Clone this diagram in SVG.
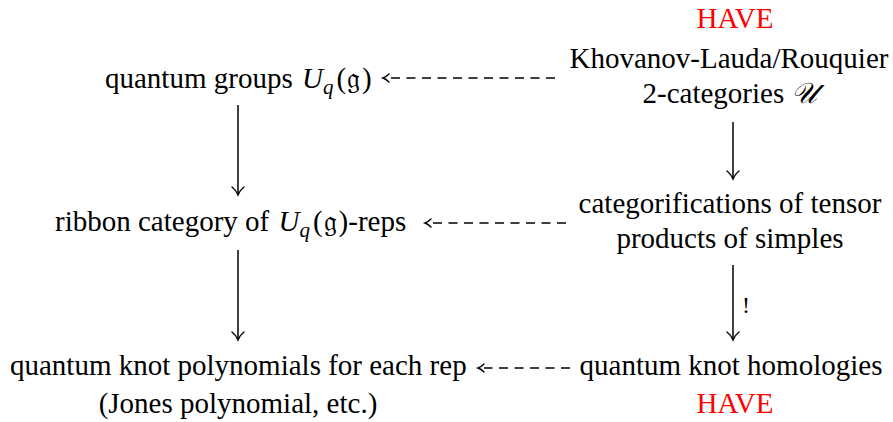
<svg xmlns="http://www.w3.org/2000/svg" width="893" height="422" viewBox="0 0 893 422">
<style>
text{font-family:"Liberation Serif","Times New Roman",serif;font-size:29px;fill:#000}
.red{fill:#ff0000}
.m{font-style:italic}
.sub{font-size:21px;font-style:italic}
.ln{stroke:#000;stroke-width:1.5;fill:none}
.dash{stroke:#000;stroke-width:1.4;fill:none;stroke-dasharray:9,6.5}
.head{stroke:#000;stroke-width:1.4;fill:none;stroke-linecap:round}
</style>
<rect width="893" height="422" fill="#fff"/>
<g id="n-qg"><text x="105" y="88">quantum groups <tspan class="m" dx="2">U</tspan><tspan class="sub" dy="6">q</tspan><tspan dy="-6" dx="3">(</tspan><tspan dx="1">𝔤</tspan><tspan dx="2">)</tspan></text></g>
<g id="n-kl"><text class="red" x="735" y="28" text-anchor="middle">HAVE</text><text x="729" y="68" text-anchor="middle">Khovanov-Lauda/Rouquier</text><text x="730" y="103" text-anchor="middle">2-categories <tspan class="m">𝒰</tspan></text></g>
<g id="n-rib"><text x="55" y="231">ribbon category of <tspan class="m" dx="2">U</tspan><tspan class="sub" dy="6">q</tspan><tspan dy="-6" dx="3">(</tspan><tspan dx="1">𝔤</tspan><tspan dx="2">)-reps</tspan></text></g>
<g id="n-cat"><text x="730" y="213" text-anchor="middle">categorifications of tensor</text><text x="730" y="248" text-anchor="middle">products of simples</text></g>
<g id="n-qkp"><text x="10" y="375">quantum knot polynomials for each rep</text><text x="238" y="413" text-anchor="middle">(Jones polynomial, etc.)</text></g>
<g id="n-qkh"><text x="731" y="375" text-anchor="middle">quantum knot homologies</text><text class="red" x="735" y="413" text-anchor="middle">HAVE</text></g>
<g id="connectors">
<path class="ln" d="M238 105V194"/><path class="head" d="M232 187Q236 190 238 195Q240 190 244 187"/>
<path class="ln" d="M238 250V339"/><path class="head" d="M232 332Q236 335 238 340Q240 335 244 332"/>
<path class="ln" d="M733 122V178"/><path class="head" d="M727 171Q731 174 733 179Q735 174 739 171"/>
<path class="ln" d="M733 265V339"/><path class="head" d="M727 332Q731 335 733 340Q735 335 739 332"/>
<text x="742" y="313" style="font-size:24px">!</text>
<path class="dash" d="M555 78H388"/><path class="head" d="M389 74Q386 77 383 78Q386 79 389 82"/>
<path class="dash" d="M566 223H430"/><path class="head" d="M431 219Q428 222 425 223Q428 224 431 227"/>
<path class="dash" d="M570 368H484"/><path class="head" d="M484 364Q481 367 478 368Q481 369 484 372"/>
</g>
</svg>
